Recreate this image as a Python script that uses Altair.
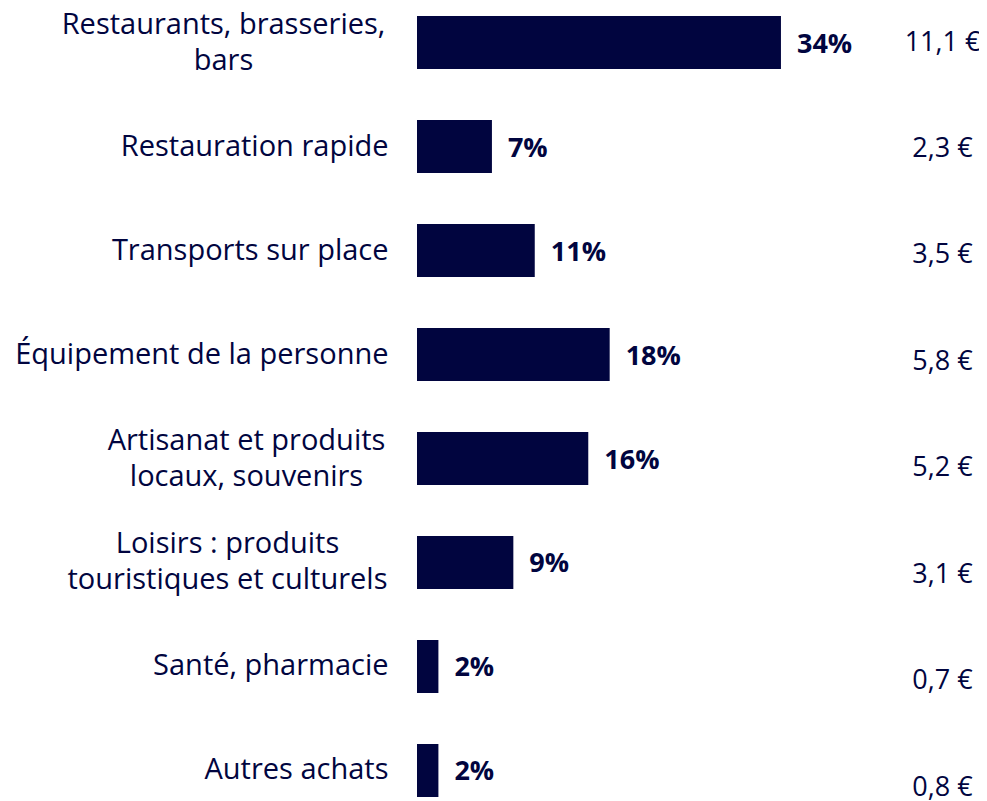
import altair as alt
import pandas as pd

# ---- data ----
categories = [
    "Restaurants, brasseries,\nbars",
    "Restauration rapide",
    "Transports sur place",
    "Équipement de la personne",
    "Artisanat et produits\nlocaux, souvenirs",
    "Loisirs : produits\ntouristiques et culturels",
    "Santé, pharmacie",
    "Autres achats",
]
shares = [34, 7, 11, 18, 16, 9, 2, 2]          # % of spending
amounts = [11.1, 2.3, 3.5, 5.8, 5.2, 3.1, 0.7, 0.8]  # euros

NAVY = "#01053f"
FONT = "Open Sans"

df = pd.DataFrame({"cat": categories, "share": shares, "amount": amounts})

multi = "indexof(datum.value, '\\n') >= 0"

left_axis = alt.Axis(
    title=None,
    domain=False,
    ticks=False,
    tickSize=0,
    grid=False,
    labelLimit=0,
    labelFont=FONT,
    labelFontSize=29,
    labelColor=NAVY,
    labelLineHeight=36,
    labelBaseline="middle",
    labelExpr="split(datum.label, '\\n')",
    labelAlign={"condition": {"test": multi, "value": "center"}, "value": "right"},
    labelOffset={"condition": {"test": multi, "value": -18}, "value": 0},
    labelPadding={
        "condition": [
            {"test": "indexof(datum.value, 'Restaurants') >= 0", "value": 194},
            {"test": "indexof(datum.value, 'Artisanat') >= 0", "value": 171},
            {"test": "indexof(datum.value, 'Loisirs') >= 0", "value": 190},
        ],
        "value": 29,
    },
)

y_cat = alt.Y(
    "cat:N",
    sort=categories,
    scale=alt.Scale(paddingInner=0.49, paddingOuter=0.0385, align=1),
    axis=left_axis,
)
x_share = alt.X("share:Q", scale=alt.Scale(domain=[0, 44], nice=False), axis=None)

base = alt.Chart(df)

bars = base.mark_bar(color=NAVY).encode(x=x_share, y=y_cat)

pct = base.transform_calculate(pct_label="datum.share + '%'").mark_text(
    align="left", baseline="middle", dx=16, dy=2,
    font=FONT, fontSize=27, fontWeight="bold", color=NAVY,
).encode(x=x_share, y=y_cat, text="pct_label:N")

euro = base.mark_point(opacity=0, size=1).encode(
    x=x_share,
    y=alt.Y(
        "amount:N",
        sort=amounts,
        scale=alt.Scale(type="point", range=[34, 779], padding=0),
        axis=alt.Axis(
            orient="right",
            title=None,
            domain=False,
            ticks=False,
            tickSize=0,
            grid=False,
            labelAlign="center",
            labelBaseline="middle",
            labelPadding=54,
            labelFont=FONT,
            labelFontSize=27,
            labelColor=NAVY,
            labelExpr="replace(datum.label, '.', ',') + ' €'",
        ),
    ),
)

chart = (
    alt.layer(alt.layer(bars, pct), euro)
    .resolve_scale(y="independent")
    .properties(
        width=471,
        height=789,
        autosize=alt.AutoSizeParams(type="none"),
        padding={"left": 409, "top": 0, "right": 91, "bottom": 6},
        background="white",
    )
    .configure_view(stroke=None)
)

chart.save("out.html", embed_options={"renderer": "svg", "actions": False})
